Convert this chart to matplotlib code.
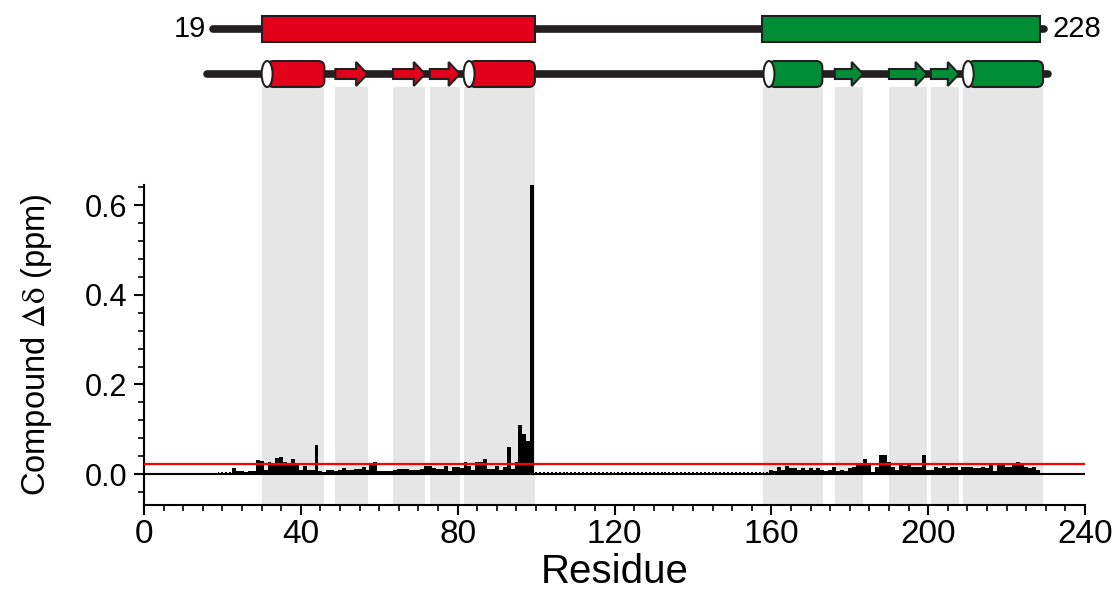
import matplotlib.pyplot as plt
from matplotlib.patches import Rectangle, FancyBboxPatch, Ellipse, FancyArrow
from matplotlib.ticker import MultipleLocator

plt.rcParams['font.family'] = ['Liberation Sans', 'DejaVu Sans']
plt.rcParams['mathtext.fontset'] = 'stix'

# chemical shift perturbation per residue
res_a = list(range(23, 100))
shift_a = [0.013, 0.006, 0.006, 0.005, 0.006, 0.007, 0.031,          # 23-29
           0.030, 0.010, 0.026, 0.024, 0.036, 0.038, 0.027, 0.024, 0.034, 0.020,  # 30-39
           0.009, 0.018, 0.009, 0.010, 0.064, 0.007, 0.004, 0.008, 0.010, 0.007,  # 40-49
           0.009, 0.013, 0.009, 0.009, 0.011, 0.011, 0.016, 0.009, 0.022, 0.027,  # 50-59
           0.006, 0.007, 0.007, 0.007, 0.008, 0.011, 0.011, 0.012, 0.010, 0.009,  # 60-69
           0.009, 0.011, 0.018, 0.017, 0.014, 0.012, 0.012, 0.018, 0.006, 0.016,  # 70-79
           0.015, 0.014, 0.026, 0.019, 0.009, 0.026, 0.026, 0.034, 0.011, 0.011,  # 80-89
           0.018, 0.009, 0.016, 0.060, 0.012, 0.026, 0.110, 0.089, 0.074, 0.645]  # 90-99

res_b = list(range(160, 229))
shift_b = [0.010, 0.007, 0.015, 0.009, 0.017, 0.013, 0.013, 0.010, 0.013, 0.009,  # 160-169
           0.014, 0.010, 0.013, 0.010, 0.007, 0.009, 0.015, 0.007, 0.010, 0.007,  # 170-179
           0.013, 0.016, 0.025, 0.022, 0.033, 0.020, 0.005, 0.016, 0.043, 0.042,  # 180-189
           0.027, 0.016, 0.010, 0.020, 0.018, 0.025, 0.015, 0.016, 0.016, 0.042,  # 190-199
           0.010, 0.009, 0.015, 0.013, 0.018, 0.013, 0.016, 0.016, 0.010, 0.016,  # 200-209
           0.015, 0.016, 0.013, 0.013, 0.016, 0.013, 0.020, 0.007, 0.020, 0.025,  # 210-219
           0.016, 0.016, 0.020, 0.027, 0.020, 0.016, 0.013, 0.016, 0.010]         # 220-228

# residues without data (drawn as tiny ticks on the baseline)
unassigned = list(range(19, 23)) + list(range(100, 160))
unassigned_val = 0.004

threshold = 0.022

# topology
seq_start, seq_end = 19, 228
domains = [(30, 99.7, '#E2001A'), (157.6, 228.5, '#008D36')]
helices = [(30, 46, '#E2001A'), (81.5, 99.7, '#E2001A'),
           (158, 173, '#008D36'), (208.8, 229.3, '#008D36')]
strands = [(48.8, 57, '#E2001A'), (63.5, 71.7, '#E2001A'), (72.9, 80.6, '#E2001A'),
           (176.2, 183.4, '#008D36'), (190, 199.7, '#008D36'), (200.7, 207.9, '#008D36')]
shaded = [(30, 46), (48.8, 57.1), (63.5, 71.7), (72.9, 80.6), (81.6, 99.7),
          (157.9, 173.2), (176.2, 183.4), (190, 199.7), (200.7, 207.9), (208.9, 229.3)]

W, H = 1115, 590
fig = plt.figure(figsize=(W / 100, H / 100), dpi=100)
ax = fig.add_axes([144 / W, 85 / H, 941 / W, 320 / H])
top = fig.add_axes([144 / W, 1 - 100 / H, 941 / W, 100 / H])

# ---- main panel ----
for a, b in shaded:
    ax.axvspan(a, b, ymin=0, ymax=(505 - 87) / 320, color='#E6E6E6', lw=0,
               zorder=0, clip_on=False)
ax.bar(res_a, shift_a, width=1.0, color='black', lw=0, zorder=2)
ax.bar(res_b, shift_b, width=1.0, color='black', lw=0, zorder=2)
ax.bar(unassigned, [unassigned_val] * len(unassigned), width=0.5, color='black', lw=0, zorder=2)
ax.axhline(0, color='black', lw=1.5, zorder=3)
ax.axhline(threshold, color='#FF0000', lw=1.6, zorder=4)

ax.set_xlim(0, 240)
ax.set_ylim(-0.069, 0.645)
ax.spines['top'].set_visible(False)
ax.spines['right'].set_visible(False)
for s in ('left', 'bottom'):
    ax.spines[s].set_linewidth(1.5)
ax.xaxis.set_major_locator(MultipleLocator(40))
ax.xaxis.set_minor_locator(MultipleLocator(5))
ax.yaxis.set_major_locator(MultipleLocator(0.2))
ax.yaxis.set_minor_locator(MultipleLocator(0.04))
ax.tick_params(which='major', length=7, width=1.5, direction='out')
ax.tick_params(which='minor', length=4, width=1.2, direction='out')
ax.tick_params(axis='y', labelsize=22, pad=5)
ax.tick_params(axis='x', labelsize=24, pad=3)
ax.set_yticks([0, 0.2, 0.4, 0.6])
ax.set_yticklabels(['0.0', '0.2', '0.4', '0.6'])
ax.set_ylabel(r'Compound $\mathrm{\Delta\delta}$ (ppm)', fontsize=23.5, labelpad=22)
ax.set_xlabel('Residue', fontsize=29, labelpad=2)

# ---- topology panel (y in pixels from panel bottom) ----
top.set_xlim(0, 240)
top.set_ylim(0, 100)
top.axis('off')
p0 = top.transData.transform((0, 0))
p1 = top.transData.transform((1, 1))
aspect = (p1[0] - p0[0]) / (p1[1] - p0[1])
edge = '#231F20'

row1, row2 = 71, 26
top.plot([seq_start - 1.5, seq_end + 1.5], [row1, row1], color=edge, lw=5.5,
         solid_capstyle='round', zorder=1)
for a, b, c in domains:
    top.add_patch(Rectangle((a, row1 - 13), b - a, 26, facecolor=c, edgecolor=edge,
                            lw=1.5, zorder=2))
top.text(seq_start - 3.2, row1, str(seq_start), ha='right', va='center', fontsize=21)
top.text(seq_end + 3.8, row1, str(seq_end), ha='left', va='center', fontsize=21)

top.plot([16, 230.5], [row2, row2], color=edge, lw=5.5, solid_capstyle='round', zorder=1)
for a, b, c in strands:
    top.add_patch(FancyArrow(a, row2, b - a, 0, width=10, head_width=24,
                             head_length=2.9, length_includes_head=True,
                             facecolor=c, edgecolor=edge, lw=1.5, zorder=2))
for a, b, c in helices:
    capw = 2.8
    xc = a + capw / 2
    top.add_patch(FancyBboxPatch((xc, row2 - 13), b - xc, 26,
                                 boxstyle='round,pad=0,rounding_size=1.6',
                                 mutation_aspect=aspect, facecolor=c,
                                 edgecolor=edge, lw=1.5, zorder=3))
    top.add_patch(Ellipse((xc, row2), capw, 26, facecolor='white', edgecolor=edge,
                          lw=1.5, zorder=4))

fig.savefig('out.png', dpi=100)
